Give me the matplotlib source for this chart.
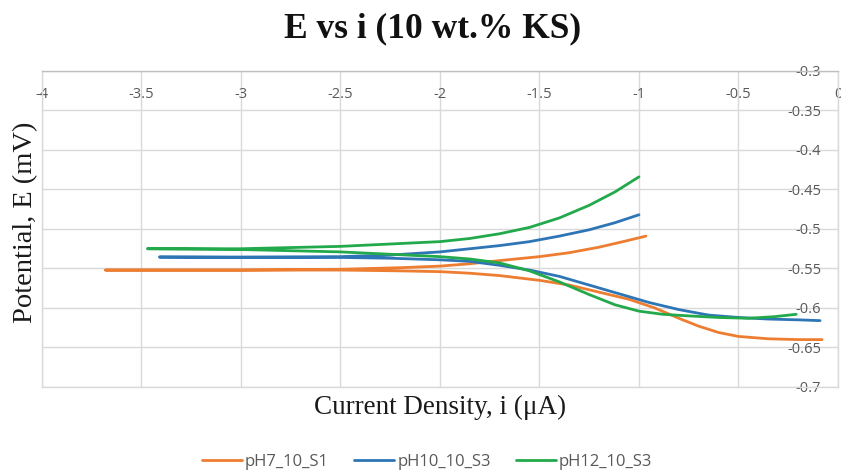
import numpy as np
import matplotlib.pyplot as plt

# Polarisation data: log current density (x) vs potential (E), two branches each
series_names = ["pH7_10_S1", "pH10_10_S3", "pH12_10_S3"]
series_colors = ["#ED7D31", "#2E75B6", "#22A94B"]

# pH 7 sample
ph7_cath_i = [-3.68, -3.0, -2.5, -2.2, -2.0, -1.85, -1.7, -1.5, -1.35, -1.2, -1.05, -0.92, -0.8, -0.7, -0.6, -0.5, -0.35, -0.2, -0.08]
ph7_cath_E = [-0.552, -0.552, -0.552, -0.553, -0.554, -0.556, -0.559, -0.565, -0.571, -0.580, -0.589, -0.600, -0.613, -0.623, -0.631, -0.636, -0.639, -0.640, -0.640]
ph7_anod_i = [-3.68, -3.0, -2.5, -2.2, -2.0, -1.85, -1.7, -1.5, -1.35, -1.2, -1.08, -0.965]
ph7_anod_E = [-0.552, -0.552, -0.551, -0.549, -0.547, -0.544, -0.540, -0.535, -0.530, -0.523, -0.516, -0.509]

# pH 10 sample
ph10_cath_i = [-3.41, -3.0, -2.5, -2.25, -2.0, -1.85, -1.7, -1.55, -1.4, -1.25, -1.1, -0.95, -0.8, -0.65, -0.5, -0.35, -0.2, -0.09]
ph10_cath_E = [-0.5355, -0.536, -0.536, -0.537, -0.539, -0.541, -0.546, -0.552, -0.560, -0.571, -0.582, -0.593, -0.602, -0.609, -0.612, -0.614, -0.615, -0.616]
ph10_anod_i = [-3.41, -3.0, -2.5, -2.25, -2.0, -1.85, -1.7, -1.55, -1.4, -1.25, -1.12, -1.0]
ph10_anod_E = [-0.5355, -0.5355, -0.535, -0.533, -0.529, -0.525, -0.521, -0.516, -0.509, -0.501, -0.492, -0.482]

# pH 12 sample
ph12_cath_i = [-3.47, -3.0, -2.5, -2.25, -2.0, -1.85, -1.7, -1.55, -1.4, -1.25, -1.12, -1.0, -0.88, -0.75, -0.6, -0.45, -0.32, -0.21]
ph12_cath_E = [-0.525, -0.526, -0.529, -0.532, -0.535, -0.538, -0.543, -0.553, -0.567, -0.583, -0.596, -0.604, -0.608, -0.610, -0.612, -0.613, -0.611, -0.608]
ph12_anod_i = [-3.47, -3.0, -2.5, -2.25, -2.0, -1.85, -1.7, -1.55, -1.4, -1.25, -1.12, -1.0]
ph12_anod_E = [-0.525, -0.525, -0.522, -0.519, -0.516, -0.512, -0.506, -0.498, -0.486, -0.470, -0.453, -0.434]

branches = [
    (ph7_cath_i, ph7_cath_E, ph7_anod_i, ph7_anod_E),
    (ph10_cath_i, ph10_cath_E, ph10_anod_i, ph10_anod_E),
    (ph12_cath_i, ph12_cath_E, ph12_anod_i, ph12_anod_E),
]

x_ticks = [-4, -3.5, -3, -2.5, -2, -1.5, -1, -0.5, 0]
x_tick_labels = ["-4", "-3.5", "-3", "-2.5", "-2", "-1.5", "-1", "-0.5", "0"]
y_ticks = [-0.3, -0.35, -0.4, -0.45, -0.5, -0.55, -0.6, -0.65, -0.7]
y_tick_labels = ["-0.3", "-0.35", "-0.4", "-0.45", "-0.5", "-0.55", "-0.6", "-0.65", "-0.7"]

tick_color = "#595959"
grid_color = "#d9d9d9"
label_font = ["Open Sans", "DejaVu Sans"]
serif_font = ["Liberation Serif", "DejaVu Serif"]

fig = plt.figure(figsize=(8.41, 4.72), dpi=100)
ax = fig.add_axes([0.0499, 0.1801, 0.9465, 0.6695])

for (ci, cE, ai, aE), name, col in zip(branches, series_names, series_colors):
    # trace cathodic branch back to the corrosion point, then the anodic branch
    x = np.concatenate([np.asarray(ci)[::-1], np.asarray(ai)[1:]])
    y = np.concatenate([np.asarray(cE)[::-1], np.asarray(aE)[1:]])
    ax.plot(x, y, color=col, lw=2.0, label=name, solid_capstyle="round",
            solid_joinstyle="round", zorder=3)

ax.set_xlim(-4, 0)
ax.set_ylim(-0.7, -0.3)
ax.set_xticks(x_ticks)
ax.set_xticklabels(x_tick_labels)
ax.set_yticks(y_ticks)
ax.set_yticklabels(y_tick_labels)
ax.grid(True, color=grid_color, lw=1.0, zorder=0)
ax.set_axisbelow(True)

for side in ["left", "bottom", "right"]:
    ax.spines[side].set_color(grid_color)
    ax.spines[side].set_linewidth(1.0)
ax.spines["top"].set_color("#bfbfbf")
ax.spines["top"].set_linewidth(1.0)

ax.xaxis.tick_top()
ax.tick_params(axis="x", length=0, pad=-22.5, labelsize=10.5, labelcolor=tick_color)
ax.yaxis.tick_right()
ax.tick_params(axis="y", length=0, pad=-12, labelsize=10.5, labelcolor=tick_color)
for lbl in ax.get_xticklabels() + ax.get_yticklabels():
    lbl.set_family(label_font)
plt.setp(ax.get_yticklabels(), ha="right")

ax.yaxis.set_label_position("left")
ax.set_ylabel("Potential, E (mV)", family=serif_font, fontsize=20.5, color="#1a1a1a")
ax.yaxis.set_label_coords(-0.021, 0.522)
ax.yaxis.label.set_va("center")

ax.set_xlabel("Current Density, i (\u03bcA)", family=serif_font, fontsize=19.5, color="#1a1a1a")
ax.xaxis.set_label_coords(0.5, -0.066)
ax.xaxis.label.set_va("center")

fig.text(433 / 841, 1 - 29 / 472, "E vs i (10 wt.% KS)", ha="center", va="center",
         family=serif_font, fontweight="bold", fontsize=25.5, color="#111111")

leg = fig.legend(loc="center", bbox_to_anchor=(427 / 841, 1 - 462 / 472), ncol=3,
                 frameon=False, handlelength=2.4, handletextpad=0.2, columnspacing=1.5,
                 prop={"family": label_font, "size": 12})
for t in leg.get_texts():
    t.set_color(tick_color)

fig.savefig("out.png", dpi=100)
